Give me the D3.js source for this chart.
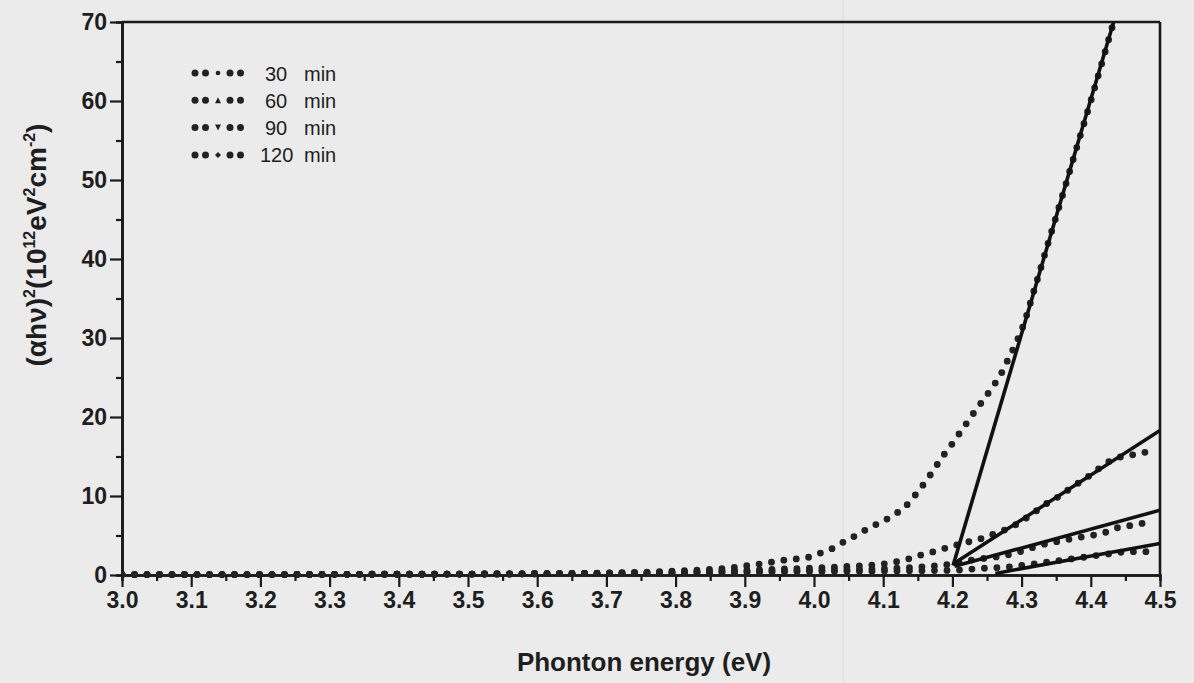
<!DOCTYPE html>
<html>
<head>
<meta charset="utf-8">
<script src="https://cdn.jsdelivr.net/npm/d3@7"></script>
<style>
  body { margin: 0; background: #ebebeb; }
  svg { display: block; }
  text { font-family: "Liberation Sans", Arial, sans-serif; fill: #1e1e1e; }
</style>
</head>
<body>
<svg id="chart" width="1194" height="683"></svg>
<script>
var width = 1194, height = 683
var margin = {left: 122, right: 34, top: 22, bottom: 108}

// series: photon energy (eV) and (ahv)^2 in 1e12 eV^2 cm^-2
var e30 = [3.0, 3.1, 3.2, 3.3, 3.4, 3.5, 3.6, 3.7, 3.8, 3.85, 3.88, 3.9, 3.93, 3.95, 3.97, 3.99,
  4.01, 4.03, 4.045, 4.065, 4.08, 4.1, 4.115, 4.13, 4.148, 4.161, 4.173, 4.185, 4.198, 4.21,
  4.222, 4.234, 4.246, 4.258, 4.27, 4.28, 4.29, 4.3, 4.32, 4.34, 4.36, 4.38, 4.4, 4.42, 4.433]
var v30 = [0.05, 0.05, 0.05, 0.08, 0.1, 0.12, 0.16, 0.25, 0.5, 0.7, 0.9, 1.15, 1.5, 1.8, 2.0, 2.2,
  2.8, 3.5, 4.3, 5.2, 6.0, 6.8, 7.6, 8.5, 10.3, 11.8, 13.3, 14.9, 16.4, 17.9,
  19.4, 20.9, 22.3, 23.8, 25.4, 27.2, 29.0, 31.0, 36.6, 42.5, 48.3, 54.2, 60.0, 66.0, 70.0]

var e60 = [3.0, 3.1, 3.2, 3.3, 3.4, 3.5, 3.6, 3.7, 3.8, 3.9, 4.0, 4.05, 4.1, 4.12, 4.139, 4.157,
  4.175, 4.19, 4.21, 4.228, 4.245, 4.26, 4.286, 4.303, 4.321, 4.339, 4.357, 4.374, 4.392,
  4.409, 4.425, 4.437, 4.454, 4.471, 4.488]
var v60 = [0.05, 0.05, 0.05, 0.08, 0.1, 0.12, 0.16, 0.22, 0.35, 0.6, 0.9, 1.1, 1.4, 1.7, 2.1, 2.6,
  3.0, 3.4, 3.9, 4.3, 4.7, 5.2, 6.1, 7.0, 8.1, 9.2, 10.1, 11.2, 12.2,
  13.3, 14.3, 14.8, 15.1, 15.4, 15.7]

var e90 = [3.0, 3.1, 3.2, 3.3, 3.4, 3.5, 3.6, 3.7, 3.8, 3.9, 4.0, 4.1, 4.15, 4.2, 4.228, 4.245,
  4.264, 4.288, 4.307, 4.324, 4.35, 4.38, 4.4, 4.418, 4.435, 4.454, 4.471, 4.488]
var v90 = [0.05, 0.05, 0.05, 0.08, 0.1, 0.12, 0.16, 0.22, 0.3, 0.45, 0.6, 0.8, 1.0, 1.4, 1.9, 2.1,
  2.3, 2.7, 3.2, 3.7, 4.2, 4.7, 5.0, 5.3, 5.9, 6.2, 6.5, 6.6]

var e120 = [3.0, 3.1, 3.2, 3.3, 3.4, 3.5, 3.6, 3.7, 3.8, 3.9, 4.0, 4.1, 4.2, 4.245, 4.286, 4.305,
  4.33, 4.36, 4.39, 4.42, 4.44, 4.46, 4.488]
var v120 = [0.05, 0.05, 0.05, 0.08, 0.1, 0.12, 0.16, 0.22, 0.3, 0.35, 0.45, 0.5, 0.6, 0.85, 1.05, 1.27,
  1.55, 1.9, 2.25, 2.6, 2.85, 2.95, 2.95]

// linear fits: start and end points [E, value]
var fit30 = [[4.201, 1.2], [4.433, 70]]
var fit60 = [[4.201, 1.4], [4.5, 18.3]]
var fit90 = [[4.203, 1.1], [4.5, 8.2]]
var fit120 = [[4.262, 0.2], [4.5, 4.0]]

var seriesNames = ['30', '60', '90', '120']
var seriesSymbols = ['circle', 'up', 'down', 'diamond']

var xTicks = [3.0, 3.1, 3.2, 3.3, 3.4, 3.5, 3.6, 3.7, 3.8, 3.9, 4.0, 4.1, 4.2, 4.3, 4.4, 4.5]
var yTicks = [0, 10, 20, 30, 40, 50, 60, 70]

var svg = d3.select('#chart')

var x = d3.scaleLinear().domain([3.0, 4.5]).range([margin.left, width - margin.right])
var y = d3.scaleLinear().domain([0, 70]).range([height - margin.bottom, margin.top])

// faint fold line in the scan
svg.append('line')
  .attr('x1', 843).attr('x2', 843)
  .attr('y1', 0).attr('y2', height)
  .attr('stroke', '#dadada').attr('stroke-width', 1)

svg.append('clipPath').attr('id', 'plotclip')
  .append('rect')
  .attr('x', x(3.0)).attr('y', y(70) - 4)
  .attr('width', x(4.5) - x(3.0)).attr('height', y(0) - y(70) + 8)

// frame top and right
svg.append('line')
  .attr('x1', x(3.0)).attr('x2', x(4.5)).attr('y1', y(70)).attr('y2', y(70))
  .attr('stroke', '#1a1a1a').attr('stroke-width', 2.6)
svg.append('line')
  .attr('x1', x(4.5)).attr('x2', x(4.5)).attr('y1', y(70)).attr('y2', y(0))
  .attr('stroke', '#1a1a1a').attr('stroke-width', 2.6)

function styleAxis(g) {
  g.select('.domain').attr('stroke', '#1a1a1a').attr('stroke-width', 2.6)
  g.selectAll('.tick line').attr('stroke', '#1a1a1a').attr('stroke-width', 2.2)
  g.selectAll('.tick text')
    .style('font-family', '"Liberation Sans", Arial, sans-serif')
    .style('font-weight', 'bold').style('font-size', '23px').attr('fill', '#1e1e1e')
}

// minor ticks
var xMinor = d3.range(3.05, 4.5, 0.1)
var yMinor = d3.range(5, 70, 10)
svg.append('g')
  .attr('transform', 'translate(0,' + y(0) + ')')
  .call(d3.axisBottom(x).tickValues(xMinor).tickSize(6).tickFormat(''))
  .call(styleAxis)
svg.append('g')
  .attr('transform', 'translate(' + x(3.0) + ',0)')
  .call(d3.axisLeft(y).tickValues(yMinor).tickSize(6).tickFormat(''))
  .call(styleAxis)

svg.append('g')
  .attr('transform', 'translate(0,' + y(0) + ')')
  .call(d3.axisBottom(x).tickValues(xTicks).tickSize(12).tickSizeOuter(0).tickPadding(5)
    .tickFormat(function(d) { return d.toFixed(1) }))
  .call(styleAxis)

svg.append('g')
  .attr('transform', 'translate(' + x(3.0) + ',0)')
  .call(d3.axisLeft(y).tickValues(yTicks).tickSize(12).tickSizeOuter(0).tickPadding(3))
  .call(styleAxis)

// data: dotted curves
var series = [[e30, v30], [e60, v60], [e90, v90], [e120, v120]]
var line = d3.line()
  .x(function(d) { return x(d[0]) })
  .y(function(d) { return y(d[1]) })
  .curve(d3.curveMonotoneX)

var plot = svg.append('g').attr('clip-path', 'url(#plotclip)')

series.forEach(function(s) {
  var pts = s[0].map(function(e, i) { return [e, s[1][i]] })
  plot.append('path')
    .datum(pts)
    .attr('d', line)
    .attr('fill', 'none')
    .attr('stroke', '#222')
    .attr('stroke-width', 6.8)
    .attr('stroke-linecap', 'round')
    .attr('stroke-dasharray', '0 12.5')
})

// fitted lines
var fits = [fit30, fit60, fit90, fit120]
plot.selectAll('line.fit')
  .data(fits)
  .enter()
  .append('line')
  .attr('class', 'fit')
  .attr('x1', function(d) { return x(d[0][0]) })
  .attr('y1', function(d) { return y(d[0][1]) })
  .attr('x2', function(d) { return x(d[1][0]) })
  .attr('y2', function(d) { return y(d[1][1]) })
  .attr('stroke', '#111')
  .attr('stroke-width', 3.6)

// legend
var legend = svg.append('g').attr('transform', 'translate(190,73)')
var rowGap = 27.3
seriesNames.forEach(function(name, i) {
  var row = legend.append('g').attr('transform', 'translate(0,' + (i * rowGap) + ')')
  ;[5, 15.5, 40, 50.5].forEach(function(dx) {
    row.append('circle').attr('cx', dx).attr('cy', 0).attr('r', 3.5).attr('fill', '#222')
  })
  var sym = seriesSymbols[i]
  var sx = 28, s = 3
  if (sym === 'circle') {
    row.append('circle').attr('cx', sx).attr('cy', 0).attr('r', 2.3).attr('fill', '#222')
  } else if (sym === 'up') {
    row.append('path').attr('d', 'M' + sx + ',' + (-s) + 'L' + (sx + s) + ',' + s + 'L' + (sx - s) + ',' + s + 'Z').attr('fill', '#222')
  } else if (sym === 'down') {
    row.append('path').attr('d', 'M' + sx + ',' + s + 'L' + (sx + s) + ',' + (-s) + 'L' + (sx - s) + ',' + (-s) + 'Z').attr('fill', '#222')
  } else {
    row.append('path').attr('d', 'M' + sx + ',' + (-s) + 'L' + (sx + s) + ',0L' + sx + ',' + s + 'L' + (sx - s) + ',0Z').attr('fill', '#222')
  }
  row.append('text')
    .attr('x', name.length > 2 ? 70 : 75).attr('y', 7.5)
    .style('font-size', '20px')
    .text(name)
  row.append('text')
    .attr('x', 114).attr('y', 7.5)
    .style('font-size', '20px')
    .text('min')
})

// axis titles
svg.append('text')
  .attr('x', (x(3.0) + x(4.5)) / 2 + 3)
  .attr('y', 671)
  .attr('text-anchor', 'middle')
  .style('font-size', '26px').style('font-weight', 'bold')
  .text('Phonton energy (eV)')

var yl = svg.append('text')
  .attr('transform', 'translate(46,245) rotate(-90)')
  .attr('text-anchor', 'middle')
  .style('font-size', '28px').style('font-weight', 'bold')
function sup(t) {
  yl.append('tspan').attr('dy', -11).style('font-size', '16px').text(t)
}
function norm(t) {
  yl.append('tspan').attr('dy', 11).text(t)
}
yl.append('tspan').text('(\u03b1h\u03bd)')
sup('2')
norm('(10')
sup('12')
norm('eV')
sup('2')
norm('cm')
sup('-2')
norm(')')
</script>
</body>
</html>
